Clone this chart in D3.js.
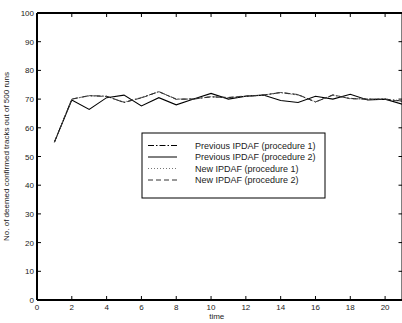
<!DOCTYPE html>
<html><head><meta charset="utf-8">
<script src="https://cdn.jsdelivr.net/npm/d3@7"></script>
<style>body{margin:0;background:#fff;}svg{display:block;font-family:"Liberation Sans",Arial,sans-serif;}</style>
</head><body>
<svg id="c" width="402" height="323"></svg>
<script>
const times = [1,2,3,4,5,6,7,8,9,10,11,12,13,14,15,16,17,18,19,20,21];
const prevProc1 = [55,70,71.2,71,68.8,70.5,72.6,70,70,70.8,70.5,71,71.4,72.3,71.5,69,71.4,70.2,70,70,69.3];
const prevProc2 = [55,69.7,66.4,70.5,71.4,67.6,70.5,68,70,72,70,71,71.4,69.5,68.8,71,70,71.7,69.7,70,68.2];
const newProc1 = [55,70,71.1,71,69,70.6,72.5,70.1,70,70.9,70.4,71,71.3,72.2,71.4,69.1,71.3,70.3,70,70.1,69.4];
const newProc2 = [55,70,71.2,70.9,68.9,70.4,72.6,69.9,70.1,70.8,70.6,71.1,71.4,72.3,71.6,69,71.5,70.1,70,69.9,69.2];
const xTicks = [0,2,4,6,8,10,12,14,16,18,20];
const yTicks = [0,10,20,30,40,50,60,70,80,90,100];
const seriesNames = ["Previous IPDAF (procedure 1)","Previous IPDAF (procedure 2)","New IPDAF (procedure 1)","New IPDAF (procedure 2)"];
const seriesData = [prevProc1, prevProc2, newProc1, newProc2];
const dashes = ["6,2,1.5,2", null, "1,2", "5,3"];
const colors = ["#000","#000","#777","#333"];

const svg = d3.select("#c");
const L = 37, R = 402.5, T = 13, B = 300;
const x = d3.scaleLinear().domain([0,21]).range([L,R]);
const y = d3.scaleLinear().domain([0,100]).range([B,T]);

const line = d3.line().x((d,i)=>x(times[i])).y(d=>y(d));
seriesData.forEach((s,k)=>{
  svg.append("path").datum(s).attr("d",line).attr("fill","none")
    .attr("stroke",colors[k]).attr("stroke-width",k===1?1.1:0.9)
    .attr("stroke-dasharray",dashes[k]);
});

const ax = svg.append("g").attr("fill","none").attr("stroke","#000");
ax.append("line").attr("x1",L).attr("x2",R).attr("y1",B).attr("y2",B).attr("stroke-width",2);
ax.append("line").attr("x1",L).attr("x2",R).attr("y1",T).attr("y2",T).attr("stroke-width",2);
ax.append("line").attr("x1",L).attr("x2",L).attr("y1",T).attr("y2",B).attr("stroke-width",2);
ax.append("line").attr("x1",R).attr("x2",R).attr("y1",T).attr("y2",B).attr("stroke-width",2);

xTicks.forEach(t=>{
  ax.append("line").attr("x1",x(t)).attr("x2",x(t)).attr("y1",B).attr("y2",B-4);
  ax.append("line").attr("x1",x(t)).attr("x2",x(t)).attr("y1",T).attr("y2",T+4);
  svg.append("text").attr("x",x(t)).attr("y",B+10).attr("text-anchor","middle")
    .attr("font-size",8).attr("fill","#222").text(t);
});
yTicks.forEach(t=>{
  ax.append("line").attr("x1",L).attr("x2",L+4).attr("y1",y(t)).attr("y2",y(t));
  ax.append("line").attr("x1",R).attr("x2",R-4).attr("y1",y(t)).attr("y2",y(t));
  svg.append("text").attr("x",L-3).attr("y",y(t)+3).attr("text-anchor","end")
    .attr("font-size",8).attr("fill","#222").text(t);
});

svg.append("text").attr("x",(L+R)/2-3).attr("y",319).attr("text-anchor","middle")
  .attr("font-size",8).attr("fill","#222").text("time");
svg.append("text").attr("transform",`translate(8.5,${(T+B)/2}) rotate(-90)`)
  .attr("text-anchor","middle").attr("font-size",8).attr("fill","#222")
  .text("No. of deemed confirmed tracks out of 500 runs");

const lg = svg.append("g");
lg.append("rect").attr("x",142).attr("y",133).attr("width",183).attr("height",65)
  .attr("fill","#fff").attr("stroke","#000").attr("stroke-width",1);
seriesNames.forEach((n,k)=>{
  const yy = 145.5 + k*11.5;
  lg.append("line").attr("x1",148).attr("x2",177).attr("y1",yy).attr("y2",yy)
    .attr("stroke",colors[k]).attr("stroke-width",1).attr("stroke-dasharray",dashes[k]);
  lg.append("text").attr("x",195).attr("y",yy+3).attr("font-size",9).attr("fill","#222").text(n);
});
</script>
</body></html>
